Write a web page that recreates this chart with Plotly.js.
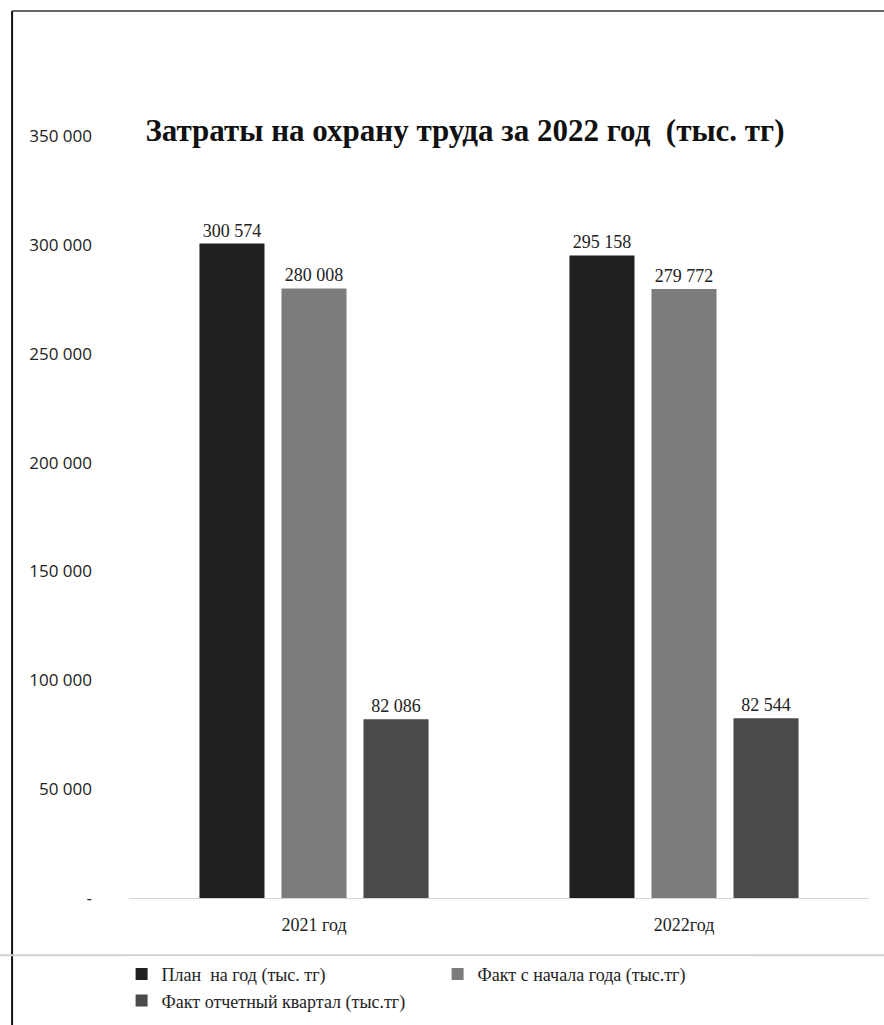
<!DOCTYPE html>
<html>
<head>
<meta charset="utf-8">
<script src="https://cdn.plot.ly/plotly-3.0.1.min.js"></script>
<style>html,body{margin:0;padding:0;background:#fff;}#chart{width:884px;height:1025px;}</style>
</head>
<body>
<div id="chart"></div>
<script>
const categories = ["2021 год", "2022год"];
const seriesNames = ["План  на год (тыс. тг)", "Факт с начала года (тыс.тг)", "Факт отчетный квартал (тыс.тг)"];
const planYear = [300574, 295158];
const factFromStart = [280008, 279772];
const factQuarter = [82086, 82544];
const tickValues = [0, 50000, 100000, 150000, 200000, 250000, 300000, 350000];
const tickLabels = ["-", "50 000", "100 000", "150 000", "200 000", "250 000", "300 000", "350 000"];
const chartTitle = "Затраты на охрану труда за 2022 год  (тыс. тг)";

const colors = ["#202020", "#7c7c7c", "#4a4a4a"];
const serif = "Liberation Serif, Times New Roman, serif";
const seriesValues = [planYear, factFromStart, factQuarter];

const traces = seriesValues.map((vals, i) => ({
  type: "bar",
  name: seriesNames[i],
  x: categories,
  y: vals,
  marker: {color: colors[i], line: {width: 0}},
  texttemplate: "%{y:,}",
  textposition: "outside",
  cliponaxis: false,
  textfont: {family: serif, size: 18, color: "#222"}
}));

const layout = {
  width: 884,
  height: 1025,
  margin: {l: 129, r: 15, t: 136, b: 127, autoexpand: false},
  paper_bgcolor: "#fff",
  plot_bgcolor: "#fff",
  separators: ", ",
  barmode: "group",
  bargap: 0.335,
  bargroupgap: 0.207,
  showlegend: true,
  hovermode: false,
  title: {
    text: "<b>" + chartTitle + "</b>",
    font: {family: serif, size: 31, color: "#111"},
    xref: "paper", x: 0.454, xanchor: "center",
    yref: "container", y: 0.873, yanchor: "middle"
  },
  xaxis: {
    type: "category",
    showline: true, linecolor: "#d4d4d4", linewidth: 1,
    ticks: "", showgrid: false,
    tickfont: {family: serif, size: 18, color: "#222"},
    ticklabelstandoff: 10
  },
  yaxis: {
    range: [0, 350000],
    tickvals: tickValues,
    ticktext: tickLabels,
    showgrid: false, zeroline: false, showline: false, ticks: "",
    tickfont: {family: "Open Sans, sans-serif", size: 17, color: "#222"},
    ticklabelstandoff: 36
  },
  legend: {
    orientation: "h",
    xref: "paper", x: -0.01, xanchor: "left",
    yref: "paper", y: -0.076, yanchor: "top",
    entrywidth: 271, entrywidthmode: "pixels",
    itemwidth: 30,
    font: {family: serif, size: 18, color: "#222"},
    traceorder: "normal"
  },
  shapes: [
    {type: "line", xref: "paper", yref: "paper", x0: -0.158, x1: -0.158, y0: 1.164, y1: -0.17, line: {color: "#111", width: 2}},
    {type: "line", xref: "paper", yref: "paper", x0: -0.158, x1: 1.03, y0: 1.164, y1: 1.164, line: {color: "#333", width: 1.5}},
    {type: "line", xref: "paper", yref: "paper", x0: -0.175, x1: 1.03, y0: -0.075, y1: -0.075, line: {color: "#d0d0d0", width: 2}}
  ]
};

Plotly.newPlot("chart", traces, layout, {displayModeBar: false, staticPlot: true});
</script>
</body>
</html>
